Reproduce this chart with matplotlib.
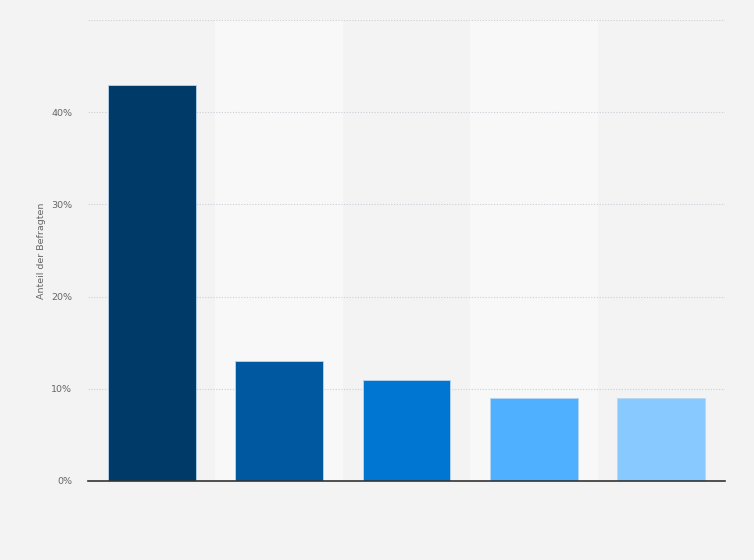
import matplotlib
matplotlib.use("Agg")
import matplotlib.pyplot as plt
from matplotlib.ticker import FuncFormatter

categories = ["A", "B", "C", "D", "E"]
values = [43, 13, 11, 9, 9]
colors = ["#003a68", "#0059a0", "#0076d3", "#4eb0ff", "#88c9ff"]
yticks = [0, 10, 20, 30, 40, 50]

fig = plt.figure(figsize=(7.54, 5.6), dpi=100)
fig.patch.set_facecolor("#f3f3f3")
ax = fig.add_axes([88/754, 79/560, 637/754, 461/560])
ax.set_facecolor("#f3f3f3")

x = list(range(len(categories)))
for i in x:
    if i % 2 == 1:
        ax.axvspan(i - 0.5, i + 0.5, color="#f8f8f8", zorder=0, lw=0)

ax.bar(x, values, width=0.69, color=colors, edgecolor="#b8d6f0", linewidth=0.6, zorder=3)

ax.set_xlim(-0.5, len(categories) - 0.5)
ax.set_ylim(0, 50)
ax.set_yticks(yticks)
ax.yaxis.set_major_formatter(FuncFormatter(lambda v, p: "" if v == 50 else f"{int(v)}%"))
ax.grid(axis="y", color="#c9cfd6", linestyle=(0, (1, 1.5)), linewidth=0.8, zorder=1)
ax.set_xticks([])
ax.tick_params(axis="y", length=0, labelsize=6.8, labelcolor="#666666", pad=11.5)
for s in ["top", "right", "left"]:
    ax.spines[s].set_visible(False)
ax.spines["bottom"].set_color("#333333")
ax.spines["bottom"].set_linewidth(1.2)
ax.spines["bottom"].set_zorder(4)
ax.set_ylabel("Anteil der Befragten", fontsize=6.8, color="#666666")
ax.yaxis.set_label_coords(-0.066, 0.5)

fig.savefig("out.png", dpi=100, facecolor=fig.get_facecolor())
